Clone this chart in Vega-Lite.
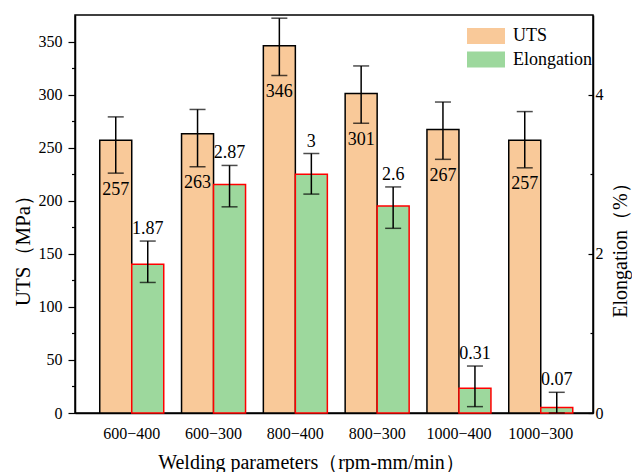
{
  "$schema": "https://vega.github.io/schema/vega-lite/v6.json",
  "autosize": "none",
  "width": 518,
  "height": 398,
  "padding": {"left": 75, "top": 15, "right": 39, "bottom": 59},
  "background": "white",
  "config": {
    "font": "Liberation Serif",
    "view": {"stroke": "#000", "strokeWidth": 1.5},
    "axis": {
      "grid": false,
      "domainColor": "#000",
      "domainWidth": 1.5,
      "tickColor": "#000",
      "tickWidth": 1.2,
      "labelColor": "#000",
      "titleColor": "#000",
      "labelFont": "Liberation Serif",
      "titleFont": "Liberation Serif",
      "labelFontSize": 16,
      "titleFontSize": 20,
      "titleFontWeight": "normal"
    },
    "legend": {
      "labelFont": "Liberation Serif",
      "labelFontSize": 18,
      "labelColor": "#000"
    }
  },
  "data": {
    "values": [
      {"param": "600−400", "metric": "UTS", "value": 257, "lo": 226, "hi": 279},
      {"param": "600−300", "metric": "UTS", "value": 263, "lo": 232, "hi": 286},
      {"param": "800−400", "metric": "UTS", "value": 346, "lo": 318, "hi": 372},
      {"param": "800−300", "metric": "UTS", "value": 301, "lo": 273, "hi": 327},
      {"param": "1000−400", "metric": "UTS", "value": 267, "lo": 239, "hi": 293},
      {"param": "1000−300", "metric": "UTS", "value": 257, "lo": 231, "hi": 284},
      {"param": "600−400", "metric": "Elongation", "value": 1.87, "lo": 1.64, "hi": 2.16},
      {"param": "600−300", "metric": "Elongation", "value": 2.87, "lo": 2.59, "hi": 3.11},
      {"param": "800−400", "metric": "Elongation", "value": 3, "lo": 2.75, "hi": 3.26},
      {"param": "800−300", "metric": "Elongation", "value": 2.6, "lo": 2.32, "hi": 2.84},
      {"param": "1000−400", "metric": "Elongation", "value": 0.31, "lo": 0.08, "hi": 0.59},
      {"param": "1000−300", "metric": "Elongation", "value": 0.07, "lo": 0, "hi": 0.26}
    ]
  },
  "encoding": {
    "x": {
      "field": "param",
      "type": "nominal",
      "sort": null,
      "scale": {"paddingInner": 0.2176, "paddingOuter": 0.275, "align": 0.55},
      "axis": {
        "title": "Welding parameters（rpm-mm/min）",
        "labelAngle": 0,
        "ticks": false,
        "labelPadding": 12,
        "titlePadding": 11,
        "titleX": 236
      }
    },
    "xOffset": {
      "field": "metric",
      "type": "nominal",
      "scale": {"domain": ["UTS", "Elongation"], "paddingInner": 0, "paddingOuter": 0}
    }
  },
  "layer": [
    {
      "transform": [{"filter": "datum.metric === 'UTS'"}],
      "resolve": {"axis": {"y": "independent"}},
      "layer": [
        {
          "mark": {"type": "bar", "stroke": "#000", "strokeWidth": 1.5},
          "encoding": {
            "y": {
              "field": "value",
              "type": "quantitative",
              "scale": {"domain": [0, 375], "nice": false},
              "axis": {
                "orient": "left",
                "title": "UTS（MPa）",
                "values": [0, 50, 100, 150, 200, 250, 300, 350],
                "tickSize": 7,
                "labelPadding": 6,
                "titlePadding": 5,
                "titleFontSize": 21,
                "titleY": 230
              }
            },
            "color": {
              "field": "metric",
              "type": "nominal",
              "scale": {"domain": ["UTS", "Elongation"], "range": ["#F9C999", "#9DD89D"]},
              "legend": {
                "title": null,
                "orient": "none",
                "legendX": 391,
                "legendY": 12,
                "padding": 0,
                "symbolType": "M-1,-1H3.75V1H-1Z",
                "symbolSize": 256,
                "symbolStrokeWidth": 0,
                "symbolOpacity": 1,
                "labelOffset": 29,
                "rowPadding": 5.5
              }
            }
          }
        },
        {
          "mark": {"type": "rule", "color": "#000", "strokeWidth": 1.5},
          "encoding": {
            "y": {
              "field": "lo",
              "type": "quantitative",
              "scale": {"domain": [0, 375], "nice": false},
              "axis": {
                "orient": "left",
                "title": null,
                "values": [25, 75, 125, 175, 225, 275, 325],
                "labels": false,
                "domain": false,
                "tickSize": 3.5
              }
            },
            "y2": {"field": "hi"}
          }
        },
        {
          "mark": {"type": "tick", "color": "#000", "size": 16, "thickness": 1.5, "orient": "horizontal"},
          "encoding": {
            "y": {"field": "hi", "type": "quantitative", "scale": {"domain": [0, 375], "nice": false}, "axis": null}
          }
        },
        {
          "mark": {"type": "tick", "color": "#000", "size": 16, "thickness": 1.5, "orient": "horizontal"},
          "encoding": {
            "y": {"field": "lo", "type": "quantitative", "scale": {"domain": [0, 375], "nice": false}, "axis": null}
          }
        },
        {
          "mark": {"type": "text", "font": "Liberation Serif", "fontSize": 18, "color": "#000", "baseline": "alphabetic", "dy": 21.5},
          "encoding": {
            "y": {"field": "lo", "type": "quantitative", "scale": {"domain": [0, 375], "nice": false}, "axis": null},
            "text": {"field": "value", "type": "nominal"}
          }
        }
      ]
    },
    {
      "transform": [{"filter": "datum.metric === 'Elongation'"}],
      "resolve": {"axis": {"y": "independent"}},
      "layer": [
        {
          "mark": {"type": "bar", "stroke": "#FF0000", "strokeWidth": 1.5},
          "encoding": {
            "y": {
              "field": "value",
              "type": "quantitative",
              "scale": {"domain": [0, 5], "nice": false},
              "axis": {
                "orient": "right",
                "title": "Elongation（%）",
                "values": [0, 2, 4],
                "format": "d",
                "tickSize": -5,
                "labelPadding": 7,
                "titleFontSize": 20,
                "titleAngle": 270,
                "titleAlign": "center",
                "titleBaseline": "middle",
                "titleX": 27,
                "titleY": 230
              }
            },
            "color": {
              "field": "metric",
              "type": "nominal",
              "scale": {"domain": ["UTS", "Elongation"], "range": ["#F9C999", "#9DD89D"]}
            }
          }
        },
        {
          "mark": {"type": "rule", "color": "#000", "strokeWidth": 1.5},
          "encoding": {
            "y": {
              "field": "lo",
              "type": "quantitative",
              "scale": {"domain": [0, 5], "nice": false},
              "axis": {
                "orient": "right",
                "title": null,
                "values": [1, 3],
                "labels": false,
                "domain": false,
                "tickSize": -3
              }
            },
            "y2": {"field": "hi"}
          }
        },
        {
          "mark": {"type": "tick", "color": "#000", "size": 16, "thickness": 1.5, "orient": "horizontal"},
          "encoding": {
            "y": {"field": "hi", "type": "quantitative", "scale": {"domain": [0, 5], "nice": false}, "axis": null}
          }
        },
        {
          "mark": {"type": "tick", "color": "#000", "size": 16, "thickness": 1.5, "orient": "horizontal"},
          "encoding": {
            "y": {"field": "lo", "type": "quantitative", "scale": {"domain": [0, 5], "nice": false}, "axis": null}
          }
        },
        {
          "mark": {"type": "text", "font": "Liberation Serif", "fontSize": 18, "color": "#000", "baseline": "alphabetic", "dy": -7},
          "encoding": {
            "y": {"field": "hi", "type": "quantitative", "scale": {"domain": [0, 5], "nice": false}, "axis": null},
            "text": {"field": "value", "type": "nominal"}
          }
        }
      ]
    }
  ],
  "resolve": {"scale": {"y": "independent"}}
}
